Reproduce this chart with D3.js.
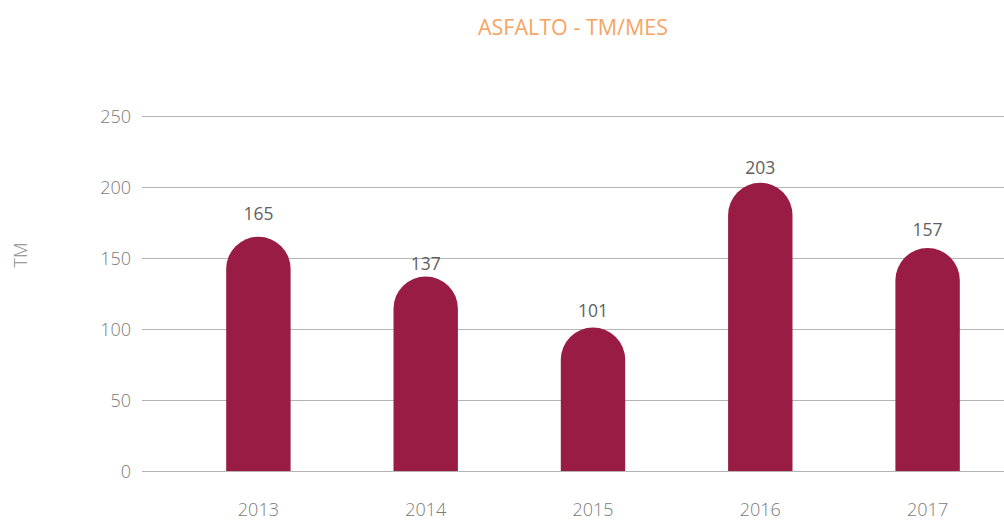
<!DOCTYPE html>
<html>
<head>
<meta charset="utf-8">
<script src="https://cdn.jsdelivr.net/npm/d3@7/dist/d3.min.js"></script>
<style>
  html, body { margin: 0; padding: 0; background: #fff; }
  svg { display: block; }
  text { font-family: "Open Sans", "Noto Sans", sans-serif; }
</style>
</head>
<body>
<svg id="chart" width="1004" height="523"></svg>
<script>
// Asphalt production, tonnes per month, by year
const years = ["2013", "2014", "2015", "2016", "2017"];
const values = [165, 137, 101, 203, 157];
const yTicks = [0, 50, 100, 150, 200, 250];
const chartTitle = "ASFALTO - TM/MES";
const yTitle = "TM";

const svg = d3.select("#chart");
const plot = { left: 142, right: 1004, top: 116, bottom: 471 };

const y = d3.scaleLinear().domain([0, 250]).range([plot.bottom, plot.top]);
const x = d3.scaleBand().domain(years).range([176, 1010]).paddingInner(0.615).paddingOuter(0.3);

// Gridlines
svg.append("g").selectAll("line").data(yTicks).join("line")
  .attr("x1", plot.left).attr("x2", plot.right)
  .attr("y1", d => y(d) + 0.5).attr("y2", d => y(d) + 0.5)
  .attr("stroke", "#b5b5b5").attr("stroke-width", 1);

// Y axis labels
const yAxis = d3.axisLeft(y).tickValues(yTicks).tickSize(0).tickPadding(0);
const gy = svg.append("g").attr("transform", `translate(131,0)`).call(yAxis);
gy.select(".domain").remove();
gy.selectAll("text")
  .attr("font-family", "'Open Sans', sans-serif")
  .attr("font-weight", 300)
  .attr("font-size", 18)
  .attr("fill", "#7a7a7a")
  .attr("dy", "0.35em");

// Bars with rounded tops
const bw = x.bandwidth();
const r = bw / 2;
svg.append("g").selectAll("path").data(years).join("path")
  .attr("fill", "#991c45")
  .attr("d", (d, i) => {
    const x0 = x(d), x1 = x0 + bw;
    const yt = y(values[i]);
    const yb = y(0);
    return `M${x0},${yb} L${x0},${yt + r} A${r},${r} 0 0 1 ${x1},${yt + r} L${x1},${yb} Z`;
  });

// Baseline over the bars
svg.append("line")
  .attr("x1", plot.left).attr("x2", plot.right)
  .attr("y1", y(0) + 0.5).attr("y2", y(0) + 0.5)
  .attr("stroke", "#b5b5b5").attr("stroke-width", 1);

// Value labels, each nudged by its own gap above the bar cap
const labelGap = [17, 6, 10.5, 8.5, 12];
svg.append("g").selectAll("text").data(years).join("text")
  .attr("x", d => x(d) + bw / 2)
  .attr("y", (d, i) => y(values[i]) - labelGap[i])
  .attr("text-anchor", "middle")
  .attr("font-family", "'Open Sans', sans-serif")
  .attr("font-size", 17.5)
  .attr("font-weight", 400)
  .attr("fill", "#5f5f5f")
  .text((d, i) => values[i]);

// X axis labels
const xAxis = d3.axisBottom(x).tickSize(0).tickPadding(0);
const gx = svg.append("g").attr("transform", `translate(0,${plot.bottom})`).call(xAxis);
gx.select(".domain").remove();
gx.selectAll("text")
  .attr("font-family", "'Open Sans', sans-serif")
  .attr("font-weight", 300)
  .attr("font-size", 18)
  .attr("fill", "#7a7a7a")
  .attr("dy", "0")
  .attr("y", 45);

// Y axis title
svg.append("text")
  .attr("transform", `translate(27,255) rotate(-90)`)
  .attr("text-anchor", "middle")
  .attr("font-weight", 300)
  .attr("font-size", 18)
  .attr("fill", "#8a8a8a")
  .text(yTitle);

// Chart title
svg.append("text")
  .attr("x", 573).attr("y", 35)
  .attr("text-anchor", "middle")
  .attr("font-size", 21.5)
  .attr("font-weight", 400)
  .attr("fill", "#f7a463")
  .text(chartTitle);
</script>
</body>
</html>
